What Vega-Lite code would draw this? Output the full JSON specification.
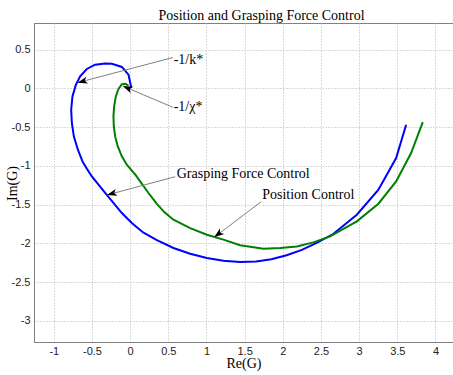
{
  "$schema": "https://vega.github.io/schema/vega-lite/v6.json",
  "width": 419,
  "height": 319,
  "autosize": {"type": "none"},
  "padding": {"left": 34, "top": 23, "right": 0, "bottom": 33},
  "background": "white",
  "title": {
    "text": "Position and Grasping Force Control",
    "font": "Liberation Serif",
    "fontSize": 14,
    "fontWeight": "normal",
    "color": "#000",
    "anchor": "middle",
    "frame": "group",
    "dx": 18,
    "dy": 17,
    "offset": 6,
    "baseline": "alphabetic"
  },
  "config": {
    "view": {"stroke": "#808080", "strokeWidth": 1},
    "axis": {
      "grid": true,
      "gridColor": "#b4b4b4",
      "gridDash": [1, 2],
      "gridWidth": 1,
      "domainColor": "#808080",
      "ticks": false,
      "labelFont": "Liberation Sans",
      "labelFontSize": 11,
      "labelColor": "#222",
      "titleFont": "Liberation Serif",
      "titleFontSize": 14,
      "titleFontWeight": "normal",
      "titleColor": "#000"
    }
  },
  "datasets": {
    "curves": [
      {"s": "Grasping Force Control", "i": 1, "re": 0.013, "im": 0.019},
      {"s": "Grasping Force Control", "i": 2, "re": -0.022, "im": 0.178},
      {"s": "Grasping Force Control", "i": 3, "re": -0.109, "im": 0.278},
      {"s": "Grasping Force Control", "i": 4, "re": -0.24, "im": 0.32},
      {"s": "Grasping Force Control", "i": 5, "re": -0.328, "im": 0.324},
      {"s": "Grasping Force Control", "i": 6, "re": -0.459, "im": 0.307},
      {"s": "Grasping Force Control", "i": 7, "re": -0.568, "im": 0.252},
      {"s": "Grasping Force Control", "i": 8, "re": -0.655, "im": 0.156},
      {"s": "Grasping Force Control", "i": 9, "re": -0.711, "im": 0.049},
      {"s": "Grasping Force Control", "i": 10, "re": -0.756, "im": -0.102},
      {"s": "Grasping Force Control", "i": 11, "re": -0.773, "im": -0.274},
      {"s": "Grasping Force Control", "i": 12, "re": -0.764, "im": -0.446},
      {"s": "Grasping Force Control", "i": 13, "re": -0.738, "im": -0.619},
      {"s": "Grasping Force Control", "i": 14, "re": -0.685, "im": -0.791},
      {"s": "Grasping Force Control", "i": 15, "re": -0.625, "im": -0.942},
      {"s": "Grasping Force Control", "i": 16, "re": -0.568, "im": -1.035},
      {"s": "Grasping Force Control", "i": 17, "re": -0.502, "im": -1.136},
      {"s": "Grasping Force Control", "i": 18, "re": -0.415, "im": -1.243},
      {"s": "Grasping Force Control", "i": 19, "re": -0.328, "im": -1.35},
      {"s": "Grasping Force Control", "i": 20, "re": -0.219, "im": -1.479},
      {"s": "Grasping Force Control", "i": 21, "re": -0.109, "im": -1.609},
      {"s": "Grasping Force Control", "i": 22, "re": 0.022, "im": -1.738},
      {"s": "Grasping Force Control", "i": 23, "re": 0.17, "im": -1.86},
      {"s": "Grasping Force Control", "i": 24, "re": 0.35, "im": -1.96},
      {"s": "Grasping Force Control", "i": 25, "re": 0.567, "im": -2.061},
      {"s": "Grasping Force Control", "i": 26, "re": 0.786, "im": -2.134},
      {"s": "Grasping Force Control", "i": 27, "re": 1.005, "im": -2.19},
      {"s": "Grasping Force Control", "i": 28, "re": 1.222, "im": -2.225},
      {"s": "Grasping Force Control", "i": 29, "re": 1.441, "im": -2.24},
      {"s": "Grasping Force Control", "i": 30, "re": 1.65, "im": -2.235},
      {"s": "Grasping Force Control", "i": 31, "re": 1.85, "im": -2.205},
      {"s": "Grasping Force Control", "i": 32, "re": 2.05, "im": -2.155},
      {"s": "Grasping Force Control", "i": 33, "re": 2.25, "im": -2.085},
      {"s": "Grasping Force Control", "i": 34, "re": 2.45, "im": -1.99},
      {"s": "Grasping Force Control", "i": 35, "re": 2.66, "im": -1.88},
      {"s": "Grasping Force Control", "i": 36, "re": 2.97, "im": -1.63},
      {"s": "Grasping Force Control", "i": 37, "re": 3.253, "im": -1.307},
      {"s": "Grasping Force Control", "i": 38, "re": 3.485, "im": -0.898},
      {"s": "Grasping Force Control", "i": 39, "re": 3.616, "im": -0.468},
      {"s": "Position Control", "i": 1, "re": -0.022, "im": 0.036},
      {"s": "Position Control", "i": 2, "re": -0.06, "im": 0.062},
      {"s": "Position Control", "i": 3, "re": -0.109, "im": 0.055},
      {"s": "Position Control", "i": 4, "re": -0.153, "im": -0.007},
      {"s": "Position Control", "i": 5, "re": -0.188, "im": -0.102},
      {"s": "Position Control", "i": 6, "re": -0.21, "im": -0.231},
      {"s": "Position Control", "i": 7, "re": -0.219, "im": -0.36},
      {"s": "Position Control", "i": 8, "re": -0.214, "im": -0.49},
      {"s": "Position Control", "i": 9, "re": -0.197, "im": -0.619},
      {"s": "Position Control", "i": 10, "re": -0.162, "im": -0.748},
      {"s": "Position Control", "i": 11, "re": -0.109, "im": -0.877},
      {"s": "Position Control", "i": 12, "re": -0.044, "im": -0.985},
      {"s": "Position Control", "i": 13, "re": 0.022, "im": -1.06},
      {"s": "Position Control", "i": 14, "re": 0.07, "im": -1.115},
      {"s": "Position Control", "i": 15, "re": 0.131, "im": -1.2},
      {"s": "Position Control", "i": 16, "re": 0.24, "im": -1.35},
      {"s": "Position Control", "i": 17, "re": 0.35, "im": -1.49},
      {"s": "Position Control", "i": 18, "re": 0.45, "im": -1.6},
      {"s": "Position Control", "i": 19, "re": 0.567, "im": -1.695},
      {"s": "Position Control", "i": 20, "re": 0.786, "im": -1.803},
      {"s": "Position Control", "i": 21, "re": 1.005, "im": -1.889},
      {"s": "Position Control", "i": 22, "re": 1.222, "im": -1.953},
      {"s": "Position Control", "i": 23, "re": 1.44, "im": -2.025},
      {"s": "Position Control", "i": 24, "re": 1.747, "im": -2.07},
      {"s": "Position Control", "i": 25, "re": 1.965, "im": -2.061},
      {"s": "Position Control", "i": 26, "re": 2.183, "im": -2.04},
      {"s": "Position Control", "i": 27, "re": 2.401, "im": -1.988},
      {"s": "Position Control", "i": 28, "re": 2.62, "im": -1.911},
      {"s": "Position Control", "i": 29, "re": 2.97, "im": -1.716},
      {"s": "Position Control", "i": 30, "re": 3.253, "im": -1.488},
      {"s": "Position Control", "i": 31, "re": 3.485, "im": -1.2},
      {"s": "Position Control", "i": 32, "re": 3.681, "im": -0.834},
      {"s": "Position Control", "i": 33, "re": 3.834, "im": -0.434}
    ],
    "notes": [
      {"label": "-1/k*", "tx": 0.57, "ty": 0.37, "x0": 0.56, "y0": 0.4, "x1": -0.69, "y1": 0.075},
      {"label": "-1/χ*", "tx": 0.57, "ty": -0.235, "x0": 0.56, "y0": -0.243, "x1": -0.096, "y1": 0.032},
      {"label": "Grasping Force Control", "tx": 0.61, "ty": -1.105, "x0": 0.59, "y0": -1.14, "x1": -0.305, "y1": -1.376},
      {"label": "Position Control", "tx": 1.73, "ty": -1.376, "x0": 1.717, "y0": -1.462, "x1": 1.1, "y1": -1.923}
    ]
  },
  "layer": [
    {
      "data": {"name": "curves"},
      "mark": {"type": "line", "strokeWidth": 2, "clip": true},
      "encoding": {
        "x": {
          "field": "re", "type": "quantitative",
          "scale": {"domain": [-1.26, 4.23], "nice": false, "zero": false},
          "axis": {
            "title": "Re(G)",
            "values": [-1, -0.5, 0, 0.5, 1, 1.5, 2, 2.5, 3, 3.5, 4],
            "labelExpr": "toString(datum.value)",
            "labelPadding": 3,
            "titleY": 25,
            "titleBaseline": "alphabetic"
          }
        },
        "y": {
          "field": "im", "type": "quantitative",
          "scale": {"domain": [-3.275, 0.846], "nice": false, "zero": false},
          "axis": {
            "title": "Im(G)",
            "values": [-3, -2.5, -2, -1.5, -1, -0.5, 0, 0.5],
            "labelExpr": "toString(datum.value)",
            "labelPadding": 4,
            "titleX": -18,
            "titleY": 160,
            "titleBaseline": "alphabetic"
          }
        },
        "order": {"field": "i", "type": "quantitative"},
        "color": {
          "field": "s", "type": "nominal",
          "scale": {"domain": ["Grasping Force Control", "Position Control"], "range": ["#0000ff", "#008000"]},
          "legend": null
        }
      }
    },
    {
      "data": {"name": "notes"},
      "mark": {"type": "rule", "color": "#808080", "strokeWidth": 1},
      "encoding": {
        "x": {"field": "x0", "type": "quantitative"},
        "y": {"field": "y0", "type": "quantitative"},
        "x2": {"field": "x1"},
        "y2": {"field": "y1"}
      }
    },
    {
      "data": {"name": "notes"},
      "transform": [
        {"calculate": "atan2((datum.x1 - datum.x0) * 76.33, (datum.y1 - datum.y0) * 77.4) * 180 / PI", "as": "ang"}
      ],
      "mark": {"type": "point", "shape": "M0,0L0.7,2L0,1.5L-0.7,2Z", "filled": true, "color": "#000", "size": 100, "opacity": 1},
      "encoding": {
        "x": {"field": "x1", "type": "quantitative"},
        "y": {"field": "y1", "type": "quantitative"},
        "angle": {"field": "ang", "type": "quantitative", "scale": null}
      }
    },
    {
      "data": {"name": "notes"},
      "mark": {"type": "text", "font": "Liberation Serif", "fontSize": 14, "align": "left", "baseline": "middle", "color": "#000"},
      "encoding": {
        "x": {"field": "tx", "type": "quantitative"},
        "y": {"field": "ty", "type": "quantitative"},
        "text": {"field": "label"}
      }
    }
  ]
}
